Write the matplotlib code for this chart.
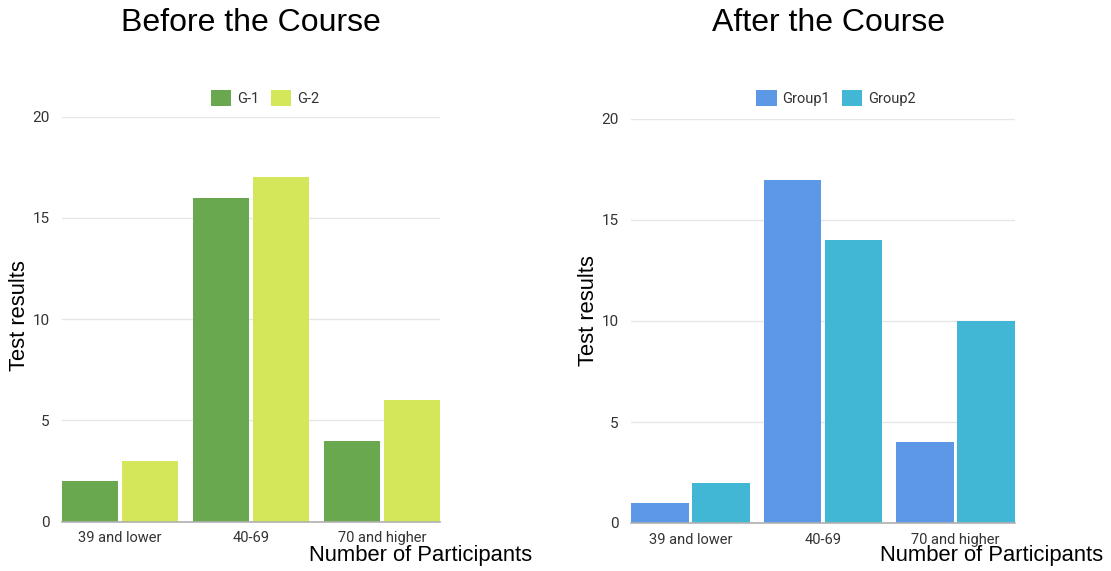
import matplotlib
matplotlib.use('Agg')
import matplotlib.pyplot as plt
import numpy as np

# ---- data ----
categories = ['39 and lower', '40-69', '70 and higher']
before_labels = ['G-1', 'G-2']
before_g1 = [2, 16, 4]
before_g2 = [3, 17, 6]
after_labels = ['Group1', 'Group2']
after_g1 = [1, 17, 4]
after_g2 = [2, 14, 10]
y_ticks = [0, 5, 10, 15, 20]

# ---- style ----
title_font = 'Liberation Sans'
tick_font = 'Roboto'
grid_color = '#e6e6e6'
base_color = '#b0b0b0'
tick_color = '#333333'
before_colors = ['#6aa84f', '#d4e65a']
after_colors = ['#5d98e6', '#42b7d5']

fig = plt.figure(figsize=(11.11, 5.71), dpi=100)


def draw_panel(rect, s1, s2, labels, colors, bar_w, inner_gap):
    ax = fig.add_axes(rect)
    x = np.arange(len(categories))
    off = (bar_w + inner_gap) / 2
    b1 = ax.bar(x - off, s1, width=bar_w, color=colors[0], label=labels[0], zorder=3)
    b2 = ax.bar(x + off, s2, width=bar_w, color=colors[1], label=labels[1], zorder=3)
    half = off + bar_w / 2
    ax.set_xlim(-half, len(categories) - 1 + half)
    ax.set_ylim(0, 20)
    ax.set_yticks(y_ticks)
    ax.set_xticks(x)
    ax.set_xticklabels(categories)
    for spine in ['top', 'right', 'left']:
        ax.spines[spine].set_visible(False)
    ax.spines['bottom'].set_color(base_color)
    ax.spines['bottom'].set_linewidth(1.2)
    ax.spines['bottom'].set_zorder(4)
    ax.yaxis.grid(True, color=grid_color, linewidth=1, zorder=0)
    ax.tick_params(axis='both', length=0, labelcolor=tick_color)
    ax.tick_params(axis='y', pad=9, labelsize=11)
    ax.tick_params(axis='x', pad=7, labelsize=10.5)
    for t in ax.get_xticklabels() + ax.get_yticklabels():
        t.set_fontfamily(tick_font)
    return ax, (b1, b2)


ax1, h1 = draw_panel([62 / 1111, 1 - 521.7 / 571, 378 / 1111, 405 / 571],
                     before_g1, before_g2, before_labels, before_colors, 0.43, 0.03)
ax2, h2 = draw_panel([631 / 1111, 1 - 523 / 571, 384 / 1111, 404 / 571],
                     after_g1, after_g2, after_labels, after_colors, 0.436, 0.023)

# titles and axis labels
fig.text(251 / 1111, 1 - 23 / 571, 'Before the Course', ha='center', va='center',
         fontsize=23, fontfamily=title_font)
fig.text(828 / 1111, 1 - 23 / 571, 'After the Course', ha='center', va='center',
         fontsize=23, fontfamily=title_font)
fig.text(20 / 1111, 1 - 316 / 571, 'Test results', rotation=90, ha='center', va='center',
         fontsize=15.8, fontfamily=title_font)
fig.text(588 / 1111, 1 - 311 / 571, 'Test results', rotation=90, ha='center', va='center',
         fontsize=15.8, fontfamily=title_font)
fig.text(532 / 1111, 1 - 556 / 571, 'Number of Participants', ha='right', va='center',
         fontsize=15.8, fontfamily=title_font)
fig.text(1103 / 1111, 1 - 556 / 571, 'Number of Participants', ha='right', va='center',
         fontsize=15.8, fontfamily=title_font)

# legends above each plot
for ax, handles, cx in [(ax1, h1, 265), (ax2, h2, 836)]:
    leg = ax.legend(handles=handles, loc='center', ncol=2,
                    bbox_to_anchor=(cx / 1111, 1 - 98 / 571),
                    bbox_transform=fig.transFigure, frameon=False,
                    handlelength=1.4, handleheight=1.4, handletextpad=0.4,
                    columnspacing=0.8, prop={'family': tick_font, 'size': 10.5})
    for t in leg.get_texts():
        t.set_color(tick_color)

fig.savefig('out.png', dpi=100)
